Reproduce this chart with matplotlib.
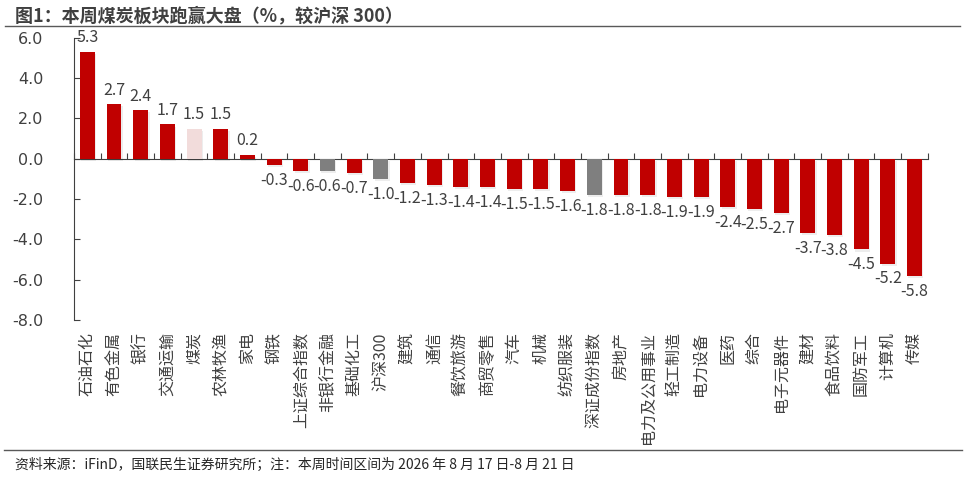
import matplotlib
matplotlib.use("Agg")
import matplotlib.pyplot as plt
import matplotlib.patheffects as pe
from matplotlib.lines import Line2D

plt.rcParams["font.family"] = ["Noto Sans CJK SC", "DejaVu Sans"]

# 数据
categories = ["石油石化", "有色金属", "银行", "交通运输", "煤炭", "农林牧渔", "家电", "钢铁",
              "上证综合指数", "非银行金融", "基础化工", "沪深300", "建筑", "通信", "餐饮旅游",
              "商贸零售", "汽车", "机械", "纺织服装", "深证成份指数", "房地产", "电力及公用事业",
              "轻工制造", "电力设备", "医药", "综合", "电子元器件", "建材", "食品饮料",
              "国防军工", "计算机", "传媒"]
values = [5.3, 2.7, 2.4, 1.7, 1.5, 1.5, 0.2, -0.3, -0.6, -0.6, -0.7, -1.0, -1.2, -1.3, -1.4,
          -1.4, -1.5, -1.5, -1.6, -1.8, -1.8, -1.8, -1.9, -1.9, -2.4, -2.5, -2.7, -3.7, -3.8,
          -4.5, -5.2, -5.8]
grey_items = ["非银行金融", "沪深300", "深证成份指数"]
highlight = "煤炭"
yticks = [6.0, 4.0, 2.0, 0.0, -2.0, -4.0, -6.0, -8.0]

RED = "#C00000"
GREY = "#7F7F7F"
PINK = "#F2DCDB"
TXT = "#404040"


def main():
    fig = plt.figure(figsize=(9.67, 4.79), dpi=100)
    ax = fig.add_axes([0.0765, 0.332, 0.883, 0.589])

    colors = []
    for c in categories:
        if c in grey_items:
            colors.append(GREY)
        elif c == highlight:
            colors.append(PINK)
        else:
            colors.append(RED)

    x = list(range(len(categories)))
    bars = ax.bar(x, values, width=0.56, color=colors, zorder=3)
    for b in bars:
        b.set_path_effects([pe.SimplePatchShadow(offset=(1, -1.5), shadow_rgbFace="#000000", alpha=0.07),
                            pe.Normal()])

    # 数值标签
    for i, v in enumerate(values):
        if v >= 0:
            ax.annotate(f"{v:.1f}", (i, v), xytext=(0, 4), textcoords="offset points",
                        ha="center", va="bottom", fontsize=11.5, color=TXT)
        else:
            ax.annotate(f"{v:.1f}", (i, v), xytext=(0, -5), textcoords="offset points",
                        ha="center", va="top", fontsize=11.5, color=TXT)

    ax.set_xlim(-0.5, len(categories) - 0.5)
    ax.set_ylim(-8, 6)
    ax.set_yticks(yticks)
    ax.set_yticklabels([f"{t:.1f}" for t in yticks], fontsize=11.5, color=TXT, family="DejaVu Sans")
    ax.tick_params(axis="y", direction="in", length=4, color="#404040", pad=22)

    for s in ["top", "right"]:
        ax.spines[s].set_visible(False)
    ax.spines["left"].set_color("#404040")
    ax.spines["bottom"].set_position(("data", 0))
    ax.spines["bottom"].set_color("#404040")
    ax.set_xticks([i - 0.5 for i in range(len(categories) + 1)])
    ax.set_xticklabels([])
    ax.tick_params(axis="x", direction="in", length=4, color="#404040")

    # 类别标签
    for i, c in enumerate(categories):
        ax.annotate(c, (i, -8), xytext=(0, -9), textcoords="offset points", rotation=90,
                    ha="center", va="top", fontsize=11.5, color=TXT, annotation_clip=False)

    # 标题与线条
    fig.text(0.016, 0.966, "图1：本周煤炭板块跑赢大盘（%，较沪深 300）", fontsize=13,
             fontweight="bold", color="#404040", va="center", ha="left")
    fig.add_artist(Line2D([0.005, 0.993], [0.946, 0.946], color="#595959", lw=1.0))
    fig.add_artist(Line2D([0.004, 0.995], [0.060, 0.060], color="#595959", lw=1.0))
    fig.text(0.016, 0.030, "资料来源：iFinD，国联民生证券研究所；注：本周时间区间为 2026 年 8 月 17 日-8 月 21 日",
             fontsize=10, color="#262626", va="center", ha="left")

    plt.savefig("out.png", dpi=100)


if __name__ == "__main__":
    main()
